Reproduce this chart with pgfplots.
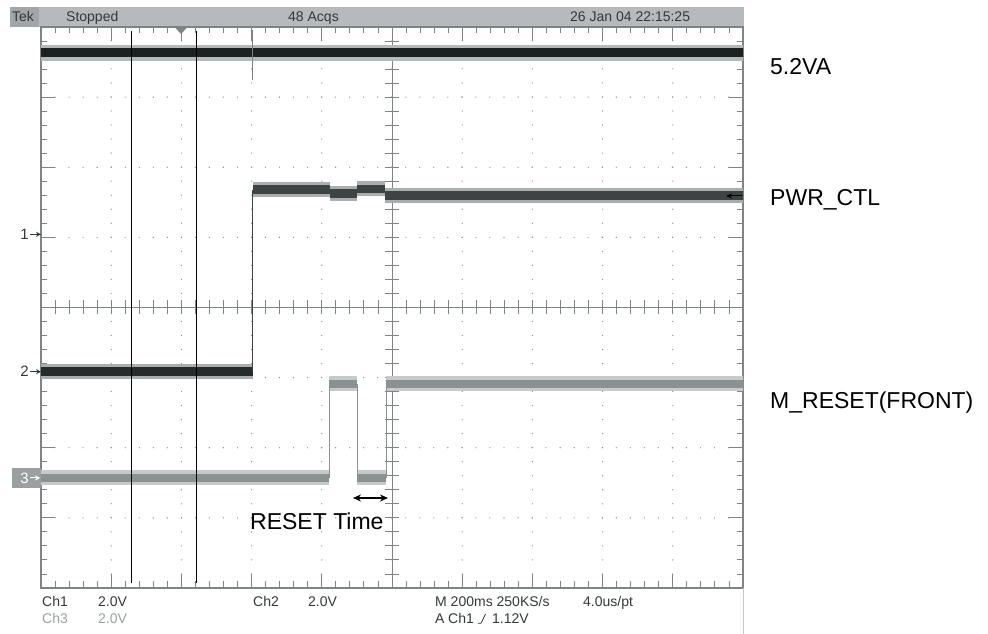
\documentclass[border=0pt]{standalone}
\usepackage{pgfplots}
\pgfplotsset{compat=1.18}
\usepackage{fontspec}
\setmainfont{Liberation Sans}
\usetikzlibrary{arrows.meta}
\definecolor{framecol}{HTML}{7E8484}
\definecolor{gridcol}{HTML}{858A8A}
\definecolor{hdr}{HTML}{B6BABE}
\definecolor{tekbox}{HTML}{A2A6AA}
\definecolor{txt}{HTML}{333838}
\definecolor{txtg}{HTML}{9AA0A0}
\definecolor{cha}{HTML}{1C2121}
\definecolor{chaf}{HTML}{B4B9B9}
\definecolor{chb}{HTML}{3C4444}
\definecolor{chbd}{HTML}{262C2C}
\definecolor{chbf}{HTML}{A9AFAF}
\definecolor{chc}{HTML}{8A9191}
\definecolor{chcf}{HTML}{C6CACA}
\newcommand\tk{\fontsize{14}{16}\selectfont}
\newcommand\bigtxt{\fontsize{23}{26}\selectfont}
\newcommand\mk{\fontsize{15}{17}\selectfont}
\begin{document}
\begin{tikzpicture}[x=1pt,y=1pt]
\path[use as bounding box] (0,0) rectangle (988,634);
% header bar
\fill[hdr] (10,607) rectangle (744,627);
\fill[tekbox] (10,607) rectangle (39,627);
\node[anchor=base west, inner sep=0, txt, font=\tk] at (12,612.3) {Tek};
\node[anchor=base west, inner sep=0, txt, font=\tk] at (66,612.3) {Stopped};
\node[anchor=base west, inner sep=0, txt, font=\tk] at (288,612.3) {48 Acqs};
\node[anchor=base west, inner sep=0, txt, font=\tk] at (570,612.3) {26 Jan 04 22:15:25};
% crosshair (centre lines with fine ticks)
\draw[framecol, line width=1pt] (392,46) -- (392,607);
\draw[framecol, line width=1pt] (41,326.5) -- (743,326.5);
\foreach \i in {1,...,39}{
  \draw[framecol, line width=0.9pt] (385,{46+\i*14.025}) -- (399,{46+\i*14.025});
}
\foreach \i in {1,...,49}{
  \draw[framecol, line width=0.9pt] ({41+\i*14.04},319.5) -- ({41+\i*14.04},333.5);
}
\begin{axis}[
  at={(41pt,46pt)}, anchor=south west,
  scale only axis, width=702pt, height=561pt,
  xmin=0, xmax=10, ymin=-4, ymax=4,
  xtick={0,...,10}, ytick={-4,...,4},
  minor x tick num=4, minor y tick num=4,
  xticklabels={}, yticklabels={},
  tick align=inside,
  major tick length=14pt, minor tick length=6.5pt,
  tick style={framecol, line width=0.9pt},
  axis line style={framecol, line width=1.4pt},
  grid=major,
  major grid style={gridcol, line width=1.3pt, line cap=round, dash pattern=on 0pt off 14.03pt},
  clip=true,
]
% Ch1 : 5.2VA
\addplot[chaf, line width=16pt] coordinates {(-0.5,3.63) (10.5,3.63)};
\addplot[cha, line width=9pt] coordinates {(-0.5,3.63) (10.5,3.63)};
\addplot[gray, line width=1.2pt] coordinates {(3.01,3.96) (3.01,3.24)};
% Ch2 : PWR_CTL
\addplot[chbf, line width=15pt] coordinates {(-0.5,-0.915) (3.016,-0.915)};
\addplot[chbd, line width=8.5pt] coordinates {(-0.5,-0.915) (3.016,-0.915)};
\addplot[chb, line width=1pt] coordinates {(3.016,-0.915) (3.016,1.68)};
\addplot[chbf, line width=15pt] coordinates {(3.016,1.68) (4.11,1.68)};
\addplot[chbf, line width=15pt] coordinates {(4.11,1.625) (4.506,1.625)};
\addplot[chbf, line width=15pt] coordinates {(4.506,1.69) (4.905,1.69)};
\addplot[chbf, line width=15pt] coordinates {(4.905,1.60) (10.5,1.60)};
\addplot[chb, line width=8.5pt] coordinates {(3.016,1.68) (4.11,1.68)};
\addplot[chb, line width=8.5pt] coordinates {(4.11,1.625) (4.506,1.625)};
\addplot[chb, line width=8.5pt] coordinates {(4.506,1.69) (4.905,1.69)};
\addplot[chb, line width=8.5pt] coordinates {(4.905,1.60) (10.5,1.60)};
% Ch3 : M_RESET(FRONT)
\addplot[chcf, line width=15pt] coordinates {(-0.5,-2.43) (4.107,-2.43)};
\addplot[chcf, line width=15pt] coordinates {(4.107,-1.09) (4.506,-1.09)};
\addplot[chcf, line width=15pt] coordinates {(4.506,-2.43) (4.915,-2.43)};
\addplot[chcf, line width=15pt] coordinates {(4.915,-1.09) (10.5,-1.09)};
\addplot[chc, line width=8.5pt] coordinates {(-0.5,-2.43) (4.107,-2.43)};
\addplot[chc, line width=8.5pt] coordinates {(4.107,-1.09) (4.506,-1.09)};
\addplot[chc, line width=8.5pt] coordinates {(4.506,-2.43) (4.915,-2.43)};
\addplot[chc, line width=8.5pt] coordinates {(4.915,-1.09) (10.5,-1.09)};
\addplot[chc, line width=1pt] coordinates {(4.107,-2.43) (4.107,-1.09)};
\addplot[chc, line width=1pt] coordinates {(4.506,-1.09) (4.506,-2.43)};
\addplot[chc, line width=1pt] coordinates {(4.915,-2.43) (4.915,-1.09)};
% cursors
\addplot[black, line width=1.3pt] coordinates {(1.292,-3.93) (1.292,3.947)};
\addplot[black, line width=1.3pt] coordinates {(2.218,-3.93) (2.218,3.947)};
\end{axis}
% trigger position marker
\fill[framecol] (174.5,607) -- (187.5,607) -- (181,600) -- cycle;
% trigger level arrow
\draw[-{Stealth[length=6pt,width=5pt]}, black, line width=1pt] (742,438) -- (726,438);
% right edge line below frame
\draw[chcf, line width=1.2pt] (743.3,46) -- (743.3,0);
% channel ground markers
\node[anchor=east, inner sep=0, txt, font=\mk] at (29,399.7) {1};
\draw[-{Stealth[length=5pt,width=5pt]}, txt, line width=1pt] (30,399.7) -- (41,399.7);
\node[anchor=east, inner sep=0, txt, font=\mk] at (29,262.3) {2};
\draw[-{Stealth[length=5pt,width=5pt]}, txt, line width=1pt] (30,262.3) -- (41,262.3);
\fill[txtg] (11.7,146) rectangle (40.7,166);
\node[anchor=east, inner sep=0, white, font=\mk] at (29,156) {3};
\draw[-{Stealth[length=5pt,width=5pt]}, white, line width=1pt] (30,156) -- (40,156);
% bottom status text
\node[anchor=base west, inner sep=0, txt, font=\tk] at (42,27.3) {Ch1};
\node[anchor=base west, inner sep=0, txt, font=\tk] at (98,27.3) {2.0V};
\node[anchor=base west, inner sep=0, txt, font=\tk] at (253,27.3) {Ch2};
\node[anchor=base west, inner sep=0, txt, font=\tk] at (308,27.3) {2.0V};
\node[anchor=base west, inner sep=0, txt, font=\tk] at (435,27.3) {M 200ms 250KS/s};
\node[anchor=base west, inner sep=0, txt, font=\tk] at (583,27.3) {4.0us/pt};
\node[anchor=base west, inner sep=0, txtg, font=\tk] at (42,10.7) {Ch3};
\node[anchor=base west, inner sep=0, txtg, font=\tk] at (98,10.7) {2.0V};
\node[anchor=base west, inner sep=0, txt, font=\tk] at (435,10.7) {A};
\node[anchor=base west, inner sep=0, txt, font=\tk] at (448,10.7) {Ch1};
\draw[txt, line width=0.8pt] (478,10.7) -- (481,10.7) -- (485.5,20);
\node[anchor=base west, inner sep=0, txt, font=\tk] at (492,10.7) {1.12V};
% annotations
\node[anchor=base west, inner sep=0, black, font=\bigtxt] at (770,559.8) {5.2VA};
\node[anchor=base west, inner sep=0, black, font=\bigtxt] at (770,428.8) {PWR\_CTL};
\node[anchor=base west, inner sep=0, black, font=\bigtxt] at (770,225.8) {M\_RESET(FRONT)};
\node[anchor=base west, inner sep=0, black, font=\bigtxt] at (250,104) {RESET Time};
\draw[{Stealth[length=8pt,width=7pt]}-{Stealth[length=8pt,width=7pt]}, black, line width=1.5pt] (353,136) -- (388,136);
\end{tikzpicture}
\end{document}
